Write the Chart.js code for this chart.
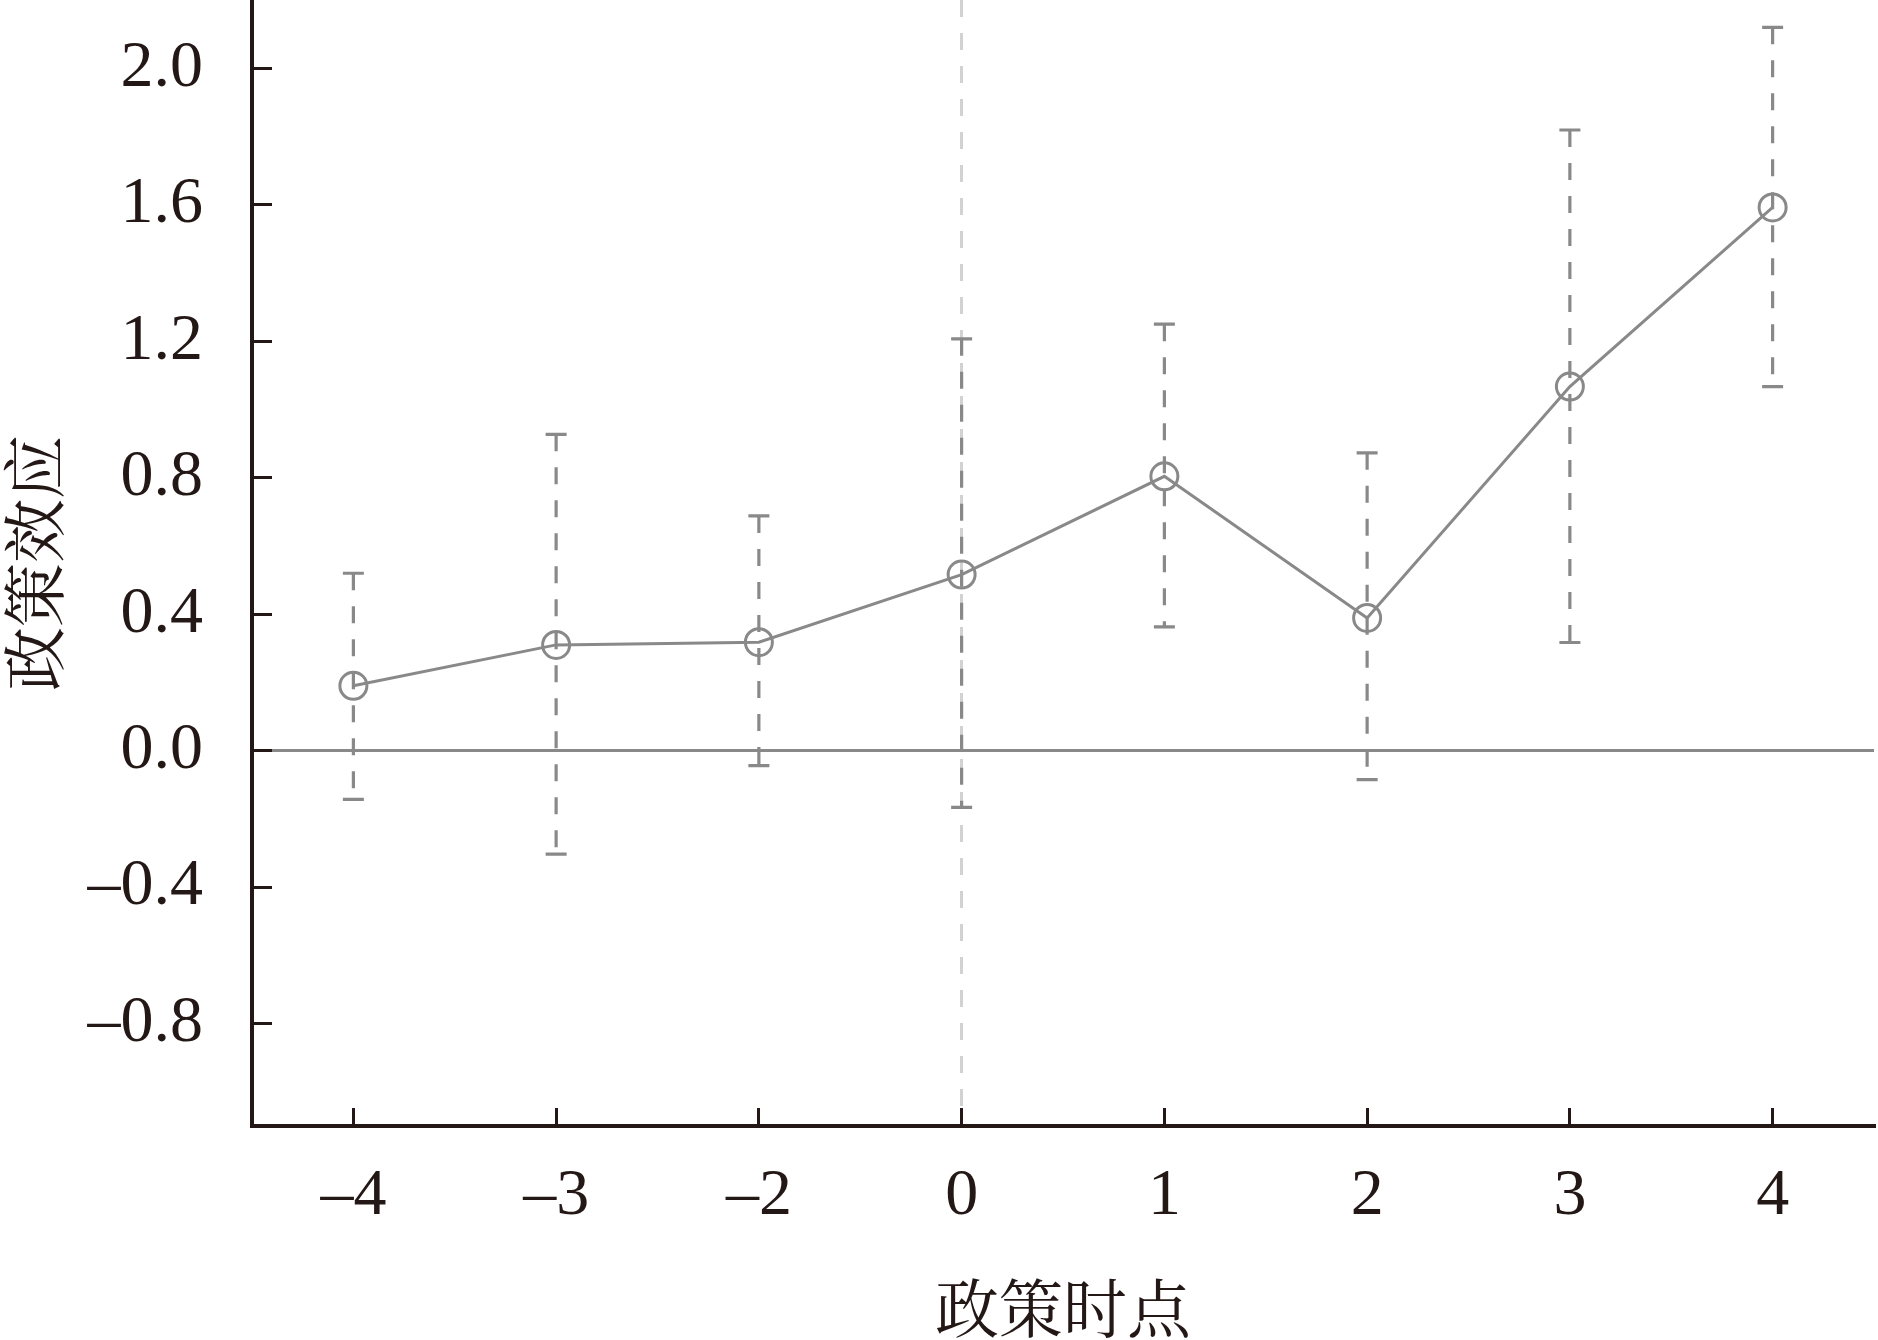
<!DOCTYPE html>
<html><head><meta charset="utf-8">
<script src="https://cdn.jsdelivr.net/npm/chart.js@4.4.0/dist/chart.umd.min.js"></script>
<style>html,body{margin:0;padding:0;background:#fff;overflow:hidden;} #wrap{width:1878px;height:1340px;position:relative;}</style>
</head><body><div id="wrap"><canvas id="c"></canvas></div>
<script>
const categories = ['-4','-3','-2','0','1','2','3','4'];
const estimates = [0.19, 0.31, 0.318, 0.516, 0.804, 0.389, 1.067, 1.592];
const upperCI   = [0.52, 0.927, 0.688, 1.207, 1.25, 0.873, 1.819, 2.12];
const lowerCI   = [-0.143, -0.303, -0.044, -0.166, 0.363, -0.085, 0.317, 1.067];
const yTicks = [-0.8, -0.4, 0, 0.4, 0.8, 1.2, 1.6, 2.0];
const yMin = -1.1, yMax = 2.2;
const eventCategory = '0';
const xTitle = '政策时点';
const yTitle = '政策效应';

const INK = '#231815';
const GRAY = '#898989';
const LIGHT = '#d2d2d2';
const CLEAR = 'rgba(0,0,0,0)';
const fmt = s => String(s).replace('-', '\u2013');

const errData = [];
categories.forEach((c, i) => {
  errData.push({x: c, y: upperCI[i]}, {x: c, y: lowerCI[i]}, {x: c, y: null});
});

new Chart(document.getElementById('c'), {
  type: 'line',
  data: {
    labels: categories,
    datasets: [
      {
        data: estimates,
        borderColor: GRAY, borderWidth: 3, tension: 0,
        pointRadius: 13.5, pointBorderWidth: 3, pointBorderColor: GRAY,
        pointBackgroundColor: CLEAR, pointStyle: 'circle', fill: false, order: 1
      },
      {
        data: errData,
        borderColor: GRAY, borderWidth: 3.2, borderDash: [17, 16], spanGaps: false,
        pointStyle: 'line', pointRadius: 10.5, pointBorderWidth: 3.2, pointBorderColor: GRAY,
        fill: false, order: 2
      }
    ]
  },
  options: {
    animation: false, responsive: true, maintainAspectRatio: false,
    layout: {autoPadding: false, padding: {left: 0, right: 4, top: 0, bottom: 0}},
    plugins: {legend: {display: false}, tooltip: {enabled: false}},
    scales: {
      x: {
        type: 'category', offset: true,
        grid: {
          offset: false, drawOnChartArea: true,
          color: ctx => (ctx.tick && ctx.tick.label === eventCategory) ? LIGHT : CLEAR,
          lineWidth: 3, drawTicks: true, tickLength: -18, tickColor: INK, tickWidth: 3
        },
        border: {display: true, color: INK, width: 4, dash: [17, 16]},
        ticks: {
          padding: 49, color: INK, autoSkip: false, maxRotation: 0,
          font: {family: '"Liberation Serif", "Times New Roman", serif', size: 66},
          callback: function (v) { return fmt(this.getLabelForValue(v)); }
        },
        title: {
          display: true, text: xTitle, color: INK, padding: 0,
          font: {family: '"Noto Serif CJK SC", "Noto Sans CJK SC", sans-serif', size: 64, lineHeight: 1}
        },
        afterFit: s => { s.height = 214; s.paddingLeft = 0; s.paddingRight = 0; }
      },
      y: {
        min: yMin, max: yMax,
        afterBuildTicks: s => { s.ticks = yTicks.map(v => ({value: v})); },
        grid: {
          drawOnChartArea: true,
          color: ctx => (ctx.tick && ctx.tick.value === 0) ? GRAY : CLEAR,
          lineWidth: 3, drawTicks: true, tickLength: -20, tickColor: INK, tickWidth: 3
        },
        border: {display: true, color: INK, width: 4},
        ticks: {
          padding: 69, color: INK,
          font: {family: '"Liberation Serif", "Times New Roman", serif', size: 66},
          callback: v => fmt(Number(v).toFixed(1))
        },
        title: {
          display: true, text: yTitle, color: INK, padding: {top: 2, bottom: 0},
          font: {family: '"Noto Serif CJK SC", "Noto Sans CJK SC", sans-serif', size: 64, lineHeight: 1}
        },
        afterFit: s => { s.width = 252; s.paddingTop = 0; s.paddingBottom = 0; }
      }
    }
  }
});
</script>
</body></html>
